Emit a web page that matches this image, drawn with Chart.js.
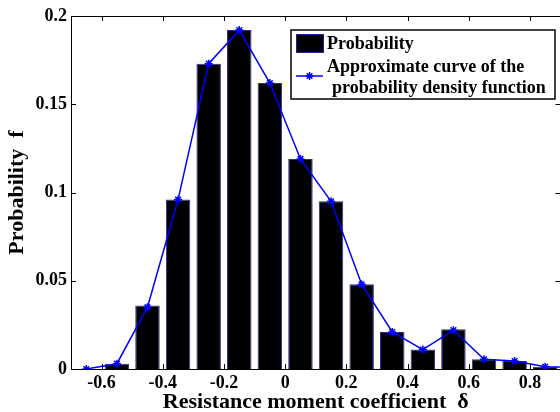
<!DOCTYPE html>
<html>
<head>
<meta charset="utf-8">
<script src="https://cdn.jsdelivr.net/npm/chart.js@4.4.1/dist/chart.umd.min.js"></script>
<style>
  html, body { margin: 0; padding: 0; background: #fff; overflow: hidden; }
  #wrap { width: 560px; height: 412px; overflow: hidden; }
</style>
</head>
<body>
<div id="wrap"><canvas id="chart" width="566" height="412"></canvas></div>
<script>
// bin centres and probabilities
const binCenters = [-0.65, -0.55, -0.45, -0.35, -0.25, -0.15, -0.05, 0.05, 0.15, 0.25, 0.35, 0.45, 0.55, 0.65, 0.75, 0.85];
const probability = [0, 0.003, 0.036, 0.096, 0.173, 0.192, 0.162, 0.119, 0.095, 0.048, 0.021, 0.011, 0.0225, 0.0055, 0.0045, 0.0013];
const curveX = [-0.65, -0.55, -0.45, -0.35, -0.25, -0.15, -0.05, 0.05, 0.15, 0.25, 0.35, 0.45, 0.55, 0.65, 0.75, 0.85, 0.95];
const curveY = [0, 0.003, 0.035, 0.096, 0.173, 0.192, 0.162, 0.119, 0.095, 0.048, 0.021, 0.011, 0.022, 0.0055, 0.0045, 0.0013, 0.001];
const xTicks = [-0.6, -0.4, -0.2, 0, 0.2, 0.4, 0.6, 0.8];
const yTicks = [0, 0.05, 0.1, 0.15, 0.2];

const FONT = '"Liberation Serif", "Times New Roman", serif';
const BLUE = '#0000ff';

const frame = {
  id: 'frame',
  afterDraw(chart) {
    const { ctx, chartArea: a, scales } = chart;
    ctx.save();
    ctx.strokeStyle = '#000';
    ctx.lineWidth = 1;
    ctx.strokeRect(a.left + 0.5, a.top + 0.5, a.right - a.left, a.bottom - a.top);
    ctx.beginPath();
    xTicks.forEach(v => {
      const px = Math.round(scales.x.getPixelForValue(v)) + 0.5;
      ctx.moveTo(px, a.bottom); ctx.lineTo(px, a.bottom - 5);
      ctx.moveTo(px, a.top); ctx.lineTo(px, a.top + 5);
    });
    yTicks.forEach(v => {
      const py = Math.round(scales.y.getPixelForValue(v)) + 0.5;
      ctx.moveTo(a.left, py); ctx.lineTo(a.left + 5, py);
      ctx.moveTo(a.right, py); ctx.lineTo(a.right - 5, py);
    });
    ctx.stroke();

    // legend box
    ctx.fillStyle = '#fff';
    ctx.fillRect(291, 30, 264, 69);
    ctx.lineWidth = 1.5;
    ctx.strokeRect(291, 30, 264, 69);
    ctx.fillStyle = '#000';
    ctx.fillRect(296, 34, 27, 18);
    ctx.strokeStyle = '#2020a0';
    ctx.lineWidth = 1;
    ctx.strokeRect(296.5, 34.5, 27, 18);
    ctx.strokeStyle = BLUE;
    ctx.lineWidth = 1.5;
    ctx.beginPath();
    ctx.moveTo(296, 76); ctx.lineTo(323, 76);
    ctx.stroke();
    Chart.helpers.drawPoint(ctx, { pointStyle: 'star', radius: 4, borderWidth: 1.5 }, 309.5, 76);
    ctx.fillStyle = '#000';
    ctx.font = 'bold 18px ' + FONT;
    ctx.textBaseline = 'middle';
    ctx.textAlign = 'left';
    ctx.fillText('Probability', 327, 44);
    ctx.fillText('Approximate curve of the', 327, 67);
    ctx.fillText('probability density function', 332, 88);
    ctx.restore();
  }
};

new Chart(document.getElementById('chart'), {
  data: {
    datasets: [
      {
        type: 'line',
        label: 'Approximate curve of the probability density function',
        data: curveX.map((x, i) => ({ x: x, y: curveY[i] })),
        borderColor: BLUE,
        backgroundColor: BLUE,
        borderWidth: 1.5,
        pointStyle: 'star',
        pointRadius: 4,
        pointBorderWidth: 1.5,
        pointBorderColor: BLUE,
        tension: 0,
        order: 0
      },
      {
        type: 'bar',
        label: 'Probability',
        data: binCenters.map((x, i) => ({ x: x, y: probability[i] })),
        backgroundColor: '#000',
        borderColor: '#2828a8',
        borderWidth: 1,
        barPercentage: 0.8,
        categoryPercentage: 1,
        order: 1
      }
    ]
  },
  options: {
    responsive: false,
    animation: false,
    devicePixelRatio: 1,
    layout: { padding: { left: 0, right: 0, top: 16, bottom: 0 } },
    plugins: { legend: { display: false }, tooltip: { enabled: false } },
    scales: {
      x: {
        type: 'linear',
        min: -0.7,
        max: 0.9,
        offset: false,
        grid: { display: false, drawTicks: false },
        border: { display: false },
        afterBuildTicks: s => { s.ticks = xTicks.map(v => ({ value: v })); },
        afterFit: s => { s.height = 43; },
        ticks: {
          color: '#000',
          padding: 4,
          maxRotation: 0,
          font: { family: FONT, size: 18, weight: 'bold' },
          callback: v => String(Math.round(v * 10) / 10)
        },
        title: {
          display: true,
          text: 'Resistance moment coefficient  δ',
          color: '#000',
          padding: { top: 0, bottom: -1 },
          font: { family: FONT, size: 22, weight: 'bold', lineHeight: 1 }
        }
      },
      y: {
        min: 0,
        max: 0.2,
        grid: { display: false, drawTicks: false },
        border: { display: false },
        afterBuildTicks: s => { s.ticks = yTicks.map(v => ({ value: v })); },
        afterFit: s => { s.width = 71; },
        ticks: {
          color: '#000',
          padding: 4,
          font: { family: FONT, size: 18, weight: 'bold' },
          callback: v => String(Math.round(v * 100) / 100)
        },
        title: {
          display: true,
          text: 'Probability  f',
          color: '#000',
          padding: { top: 6, bottom: 0 },
          font: { family: FONT, size: 22, weight: 'bold', lineHeight: 1 }
        }
      }
    }
  },
  plugins: [frame]
});
</script>
</body>
</html>
